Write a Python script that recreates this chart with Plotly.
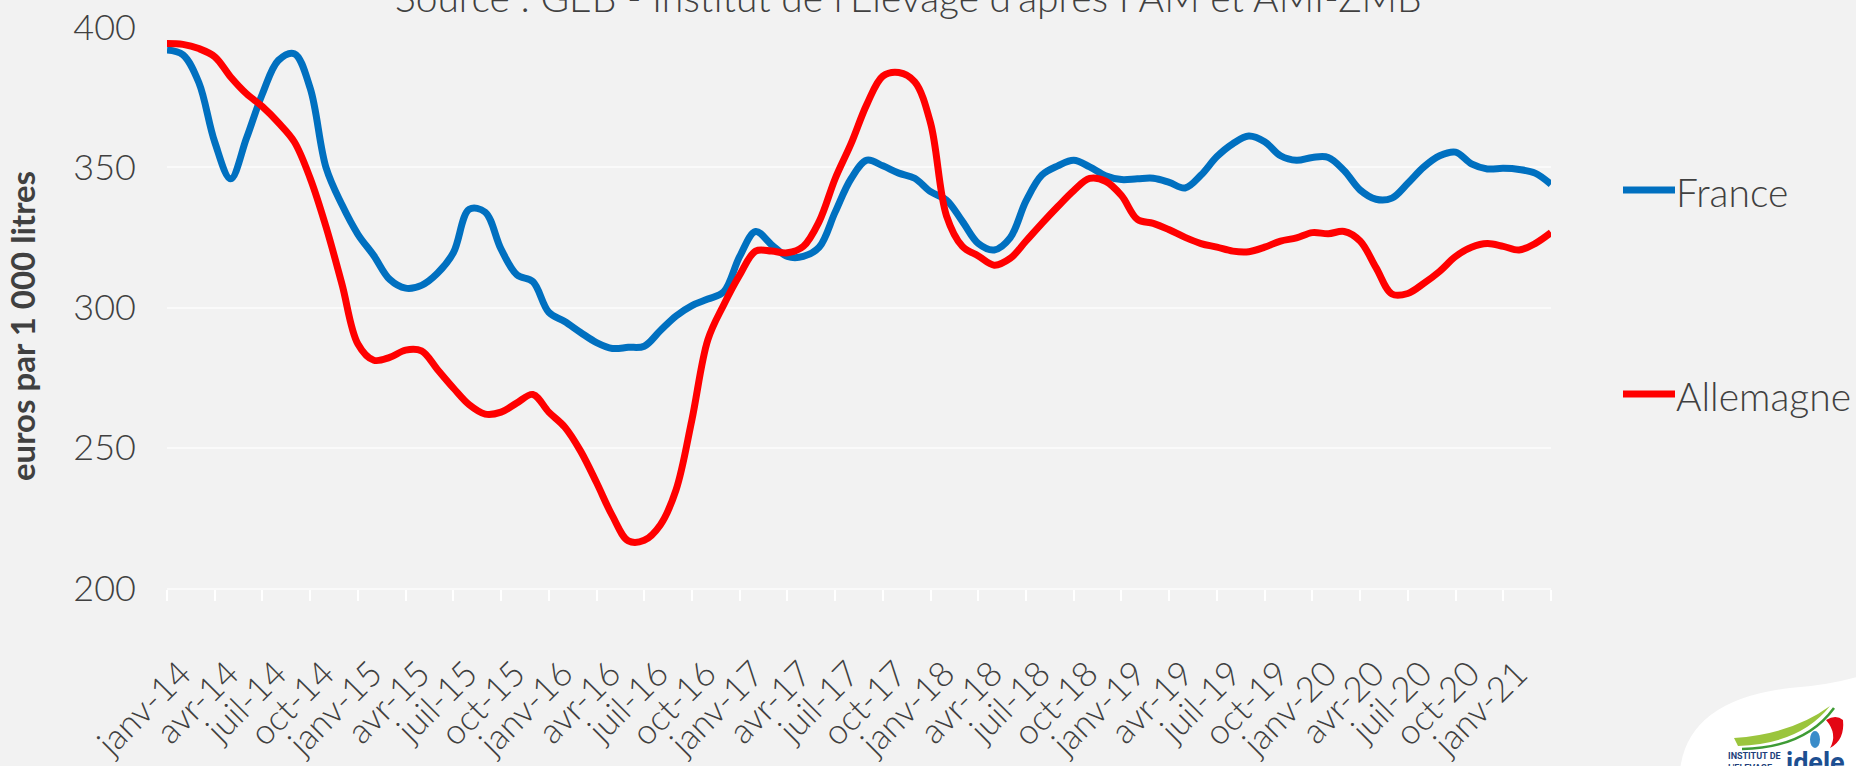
import plotly.graph_objects as go

# ---------------- data (euros / 1 000 litres, monthly, janv-14 .. avr-21) ----------------
france = [391.8, 390.1, 380.2, 359.0, 345.9, 360.4, 376.2, 388.1, 390.5, 378.2,
          349.8, 336.6, 326.1, 318.5, 310.0, 306.9, 307.9, 312.2, 319.5, 335.0,
          334.0, 320.8, 311.6, 309.2, 298.3, 295.0, 291.1, 287.5, 285.4, 285.8,
          286.2, 291.7, 297.0, 300.7, 303.0, 305.6, 318.2, 327.1, 322.4, 318.2,
          318.2, 321.5, 334.0, 345.9, 352.5, 350.5, 347.9, 346.1, 341.3, 338.3,
          330.7, 322.8, 320.5, 324.8, 338.0, 347.2, 350.5, 352.5, 350.1, 347.0,
          345.6, 345.9, 346.1, 344.6, 342.6, 347.2, 353.8, 358.4, 361.1, 359.1,
          354.1, 352.5, 353.5, 353.5, 348.8, 341.9, 338.6, 339.0, 344.3, 350.1,
          354.1, 355.4, 351.2, 349.4, 349.6, 349.2, 347.9, 343.9]
allemagne = [394.1, 393.8, 392.3, 389.4, 382.2, 376.2, 371.6, 365.9, 359.1, 346.1,
             328.7, 308.3, 287.0, 281.2, 282.2, 284.8, 284.5, 277.9, 271.3, 265.3,
             262.0, 262.7, 266.0, 269.0, 262.7, 257.4, 248.8, 237.6, 225.7, 216.8,
             217.0, 222.4, 235.0, 260.1, 288.5, 301.0, 311.6, 320.1, 320.1, 319.5,
             321.8, 330.7, 345.9, 358.4, 372.5, 382.5, 383.8, 380.5, 365.7, 332.7,
             321.8, 318.4, 315.1, 317.5, 323.7, 330.0, 336.0, 341.7, 346.0, 345.0,
             339.9, 331.4, 330.0, 327.7, 325.0, 322.8, 321.5, 320.1, 319.9, 321.5,
             323.7, 324.8, 326.7, 326.3, 327.1, 323.7, 314.2, 304.8, 305.0, 308.6,
             312.9, 318.2, 321.5, 322.8, 321.8, 320.5, 322.8, 326.7]
tick_labels = ["janv-14", "avr-14", "juil-14", "oct-14", "janv-15", "avr-15", "juil-15", "oct-15",
               "janv-16", "avr-16", "juil-16", "oct-16", "janv-17", "avr-17", "juil-17", "oct-17",
               "janv-18", "avr-18", "juil-18", "oct-18", "janv-19", "avr-19", "juil-19", "oct-19",
               "janv-20", "avr-20", "juil-20", "oct-20", "janv-21", ""]
series_names = ["France", "Allemagne"]
series_colors = ["#0070C0", "#FF0000"]
y_ticks = [200, 250, 300, 350, 400]

# ---------------- geometry helpers (pixels -> paper) ----------------
W, H = 1856, 766
ML, MR, MT, MB = 167, 305, 27, 178
PW, PH = W - ML - MR, H - MT - MB
def px(x):
    return (x - ML) / PW
def py(y):
    return (H - MB - y) / PH

months = list(range(len(france)))
tick_pos = months[::3]

FONT = "Lato"
GREY = "#404040"
BG = "#F2F2F2"

fig = go.Figure()
for name, vals, col in zip(series_names, [france, allemagne], series_colors):
    fig.add_trace(go.Scatter(x=months, y=vals, mode="lines", name=name,
                             line=dict(color=col, width=7, shape="spline", smoothing=1.0),
                             showlegend=False, hoverinfo="x+y"))

fig.update_layout(
    width=W, height=H,
    margin=dict(l=ML, r=MR, t=MT, b=MB, pad=0, autoexpand=False),
    paper_bgcolor=BG, plot_bgcolor=BG,
    font=dict(family=FONT, color=GREY, size=34),
    xaxis=dict(range=[0, len(france) - 1], tickmode="array", tickvals=tick_pos,
               ticktext=tick_labels[:len(tick_pos)], tickangle=-45, automargin=False,
               ticks="outside", ticklen=11, tickwidth=1.5, tickcolor="#FFFFFF",
               showgrid=False, zeroline=False, showline=True, linecolor="#FAFAFA",
               linewidth=2, ticklabelstandoff=38, ticklabelshift=14,
               tickfont=dict(family=FONT, size=35, color=GREY, weight=300)),
    yaxis=dict(range=[200, 400], tickvals=y_ticks, showgrid=True, gridcolor="#FAFAFA",
               gridwidth=2, zeroline=False, ticks="", ticklabelstandoff=30, automargin=False,
               tickfont=dict(family=FONT, size=36, color=GREY, weight=300)),
)

annotations = [
    dict(text="Source : GEB - Institut de l'Elevage d'après FAM et AMI-ZMB",
         xref="paper", yref="paper", x=px(908), y=py(-3), xanchor="center", yanchor="middle",
         showarrow=False, font=dict(family=FONT, size=39, color=GREY, weight=300)),
    dict(text="<b>euros par 1 000 litres</b>", xref="paper", yref="paper",
         x=px(22), y=py(326), xanchor="center", yanchor="middle", textangle=-90,
         showarrow=False, font=dict(family=FONT, size=33, color=GREY)),
]
shapes = []
# legend (manual, to match the spread-out layout)
for name, col, ly in zip(series_names, series_colors, [190, 394]):
    shapes.append(dict(type="line", xref="paper", yref="paper",
                       x0=px(1623), x1=px(1675), y0=py(ly), y1=py(ly),
                       line=dict(color=col, width=7)))
    annotations.append(dict(text=name, xref="paper", yref="paper", x=px(1674), y=py(ly + 2),
                            xanchor="left", yanchor="middle", showarrow=False,
                            font=dict(family=FONT, size=39, color=GREY, weight=300)))

# logo (approximate)
def P(x, y):
    return "{:.5f},{:.5f}".format(px(x), py(y))

blob = ("M " + P(1680, 770) + " Q " + P(1688, 700) + " " + P(1790, 688) +
        " Q " + P(1830, 685) + " " + P(1860, 676) + " L " + P(1860, 770) + " Z")
shapes.append(dict(type="path", xref="paper", yref="paper", path=blob,
                   fillcolor="#FFFFFF", line=dict(width=0), layer="below"))
sw1 = ("M " + P(1734, 738) + " Q " + P(1792, 734) + " " + P(1830, 706) +
       " Q " + P(1800, 744) + " " + P(1738, 746) + " Z")
shapes.append(dict(type="path", xref="paper", yref="paper", path=sw1,
                   fillcolor="#9BC53D", line=dict(width=0)))
sw2 = "M " + P(1742, 749) + " Q " + P(1805, 748) + " " + P(1834, 708)
shapes.append(dict(type="path", xref="paper", yref="paper", path=sw2,
                   line=dict(color="#3E9B35", width=2.5)))
shapes.append(dict(type="path", xref="paper", yref="paper",
                   path="M " + P(1826, 720) + " Q " + P(1836, 714) + " " + P(1843, 720) +
                        " Q " + P(1845, 740) + " " + P(1830, 748) + " Q " + P(1838, 734) + " " + P(1826, 720) + " Z",
                   fillcolor="#E30613", line=dict(width=0)))
shapes.append(dict(type="circle", xref="paper", yref="paper",
                   x0=px(1810), x1=px(1820), y0=py(748), y1=py(731),
                   fillcolor="#3A8CC9", line=dict(width=0)))
annotations.append(dict(text="<b>INSTITUT DE<br>L'ELEVAGE</b>", xref="paper", yref="paper",
                        x=px(1755), y=py(762), xanchor="center", yanchor="middle", showarrow=False,
                        align="left", font=dict(family="Roboto", size=9, color="#1D3F7A")))
annotations.append(dict(text="<b>idele</b>", xref="paper", yref="paper",
                        x=px(1815), y=py(763), xanchor="center", yanchor="middle", showarrow=False,
                        font=dict(family="Roboto", size=27, color="#1D4F91")))

fig.update_layout(annotations=annotations, shapes=shapes)
fig.write_html("out.html", config={"displayModeBar": False},
               post_script="document.body.style.margin='0px';")
